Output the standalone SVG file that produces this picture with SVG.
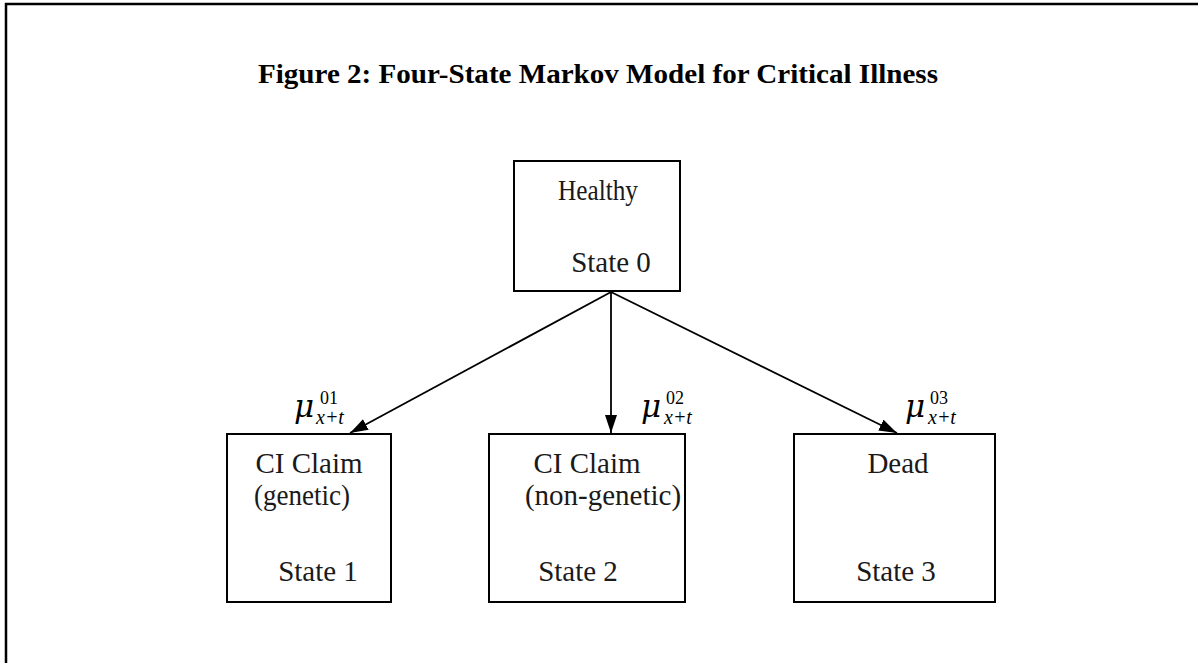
<svg xmlns="http://www.w3.org/2000/svg" width="1198" height="663" viewBox="0 0 1198 663">
<defs>
<style>
.box{fill:#fff;stroke:#000;stroke-width:2}
.t{font-family:"Liberation Serif",serif;font-size:29px;fill:#1a1a1a;text-anchor:middle}
.ti{font-family:"Liberation Serif",serif;font-size:28px;font-weight:bold;fill:#000;text-anchor:middle}
.mu{font-family:"DejaVu Serif",serif;font-style:italic;font-size:31px;fill:#000}
.sup{font-family:"Liberation Serif",serif;font-size:18px;fill:#000}
.sub{font-family:"Liberation Serif",serif;font-style:italic;font-size:20px;fill:#000}
.conn{stroke:#000;stroke-width:1.8;fill:none;marker-end:url(#ah)}
</style>
<marker id="ah" viewBox="0 0 18 12" refX="18" refY="6" markerWidth="18" markerHeight="12" markerUnits="userSpaceOnUse" orient="auto">
<path d="M0,0 L18,6 L0,12 z" fill="#000"/>
</marker>
</defs>
<rect width="1198" height="663" fill="#fff"/>
<path d="M6,663 V4 H1198" fill="none" stroke="#000" stroke-width="2.5"/>
<text class="ti" x="598" y="83" textLength="680" lengthAdjust="spacingAndGlyphs">Figure 2: Four-State Markov Model for Critical Illness</text>
<g id="connectors">
<line class="conn" x1="611" y1="292" x2="350" y2="433"/>
<line class="conn" x1="611" y1="292" x2="611" y2="433"/>
<line class="conn" x1="611" y1="292" x2="897" y2="433"/>
</g>
<g id="state0">
<rect class="box" x="514" y="161" width="166" height="130"/>
<text class="t" x="598" y="200" textLength="80" lengthAdjust="spacingAndGlyphs">Healthy</text>
<text class="t" x="611" y="272">State 0</text>
</g>
<g id="state1">
<rect class="box" x="227" y="434" width="164" height="168"/>
<text class="t" x="309" y="473">CI Claim</text>
<text class="t" x="302" y="505" textLength="96" lengthAdjust="spacingAndGlyphs">(genetic)</text>
<text class="t" x="318" y="581">State 1</text>
</g>
<g id="state2">
<rect class="box" x="489" y="434" width="196" height="168"/>
<text class="t" x="587" y="473">CI Claim</text>
<text class="t" x="603" y="505">(non-genetic)</text>
<text class="t" x="578" y="581">State 2</text>
</g>
<g id="state3">
<rect class="box" x="794" y="434" width="201" height="168"/>
<text class="t" x="898" y="473">Dead</text>
<text class="t" x="896" y="581">State 3</text>
</g>
<g id="labels">
<text class="mu" x="294" y="417">μ</text>
<text class="sup" x="320" y="404">01</text>
<text class="sub" x="316" y="424">x+t</text>
<text class="mu" x="641" y="417">μ</text>
<text class="sup" x="666" y="404">02</text>
<text class="sub" x="664" y="424">x+t</text>
<text class="mu" x="905" y="417">μ</text>
<text class="sup" x="930" y="404">03</text>
<text class="sub" x="928" y="424">x+t</text>
</g>
</svg>
